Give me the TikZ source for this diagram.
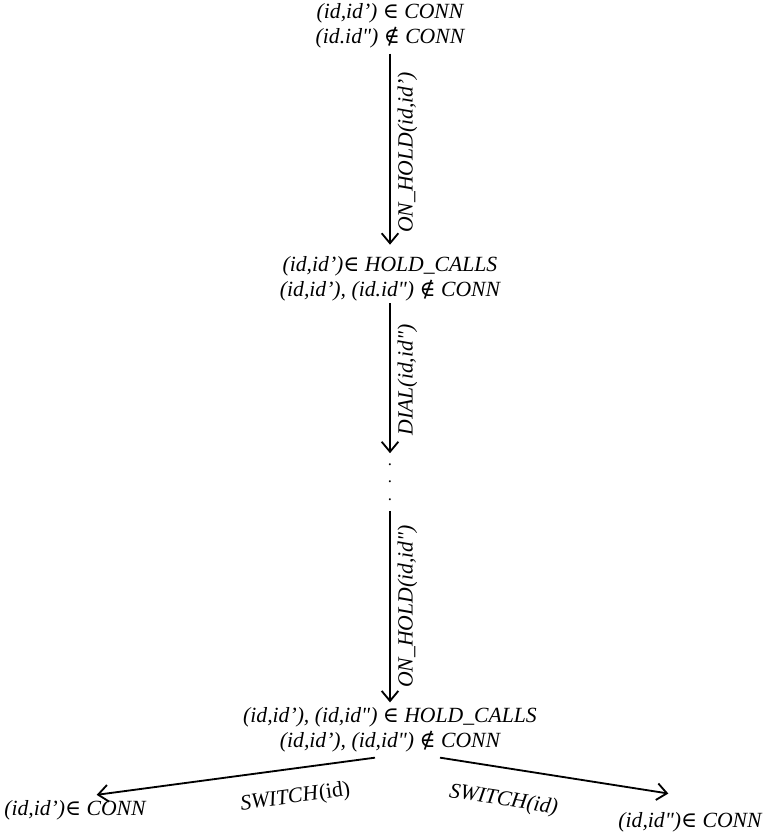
\documentclass[tikz,border=0pt]{standalone}
\usepackage{fontspec}
\setmainfont{Liberation Serif}[Ligatures=TeXOff]
\newfontfamily\symf{DejaVu Serif}
\newcommand{\isin}{{\symf\upshape ∈}}
\newcommand{\notisin}{{\symf\upshape ∉}}
\usetikzlibrary{arrows.meta}
\tikzset{
  state/.style={align=center,inner sep=3pt,font=\itshape\fontsize{13}{15}\selectfont},
  act/.style={font=\itshape\fontsize{13}{15}\selectfont,inner sep=4pt},
  arr/.style={line width=1.1pt,-{Straight Barb[length=6pt,width=10pt,line width=1.1pt]}}
}
\begin{document}
\begin{tikzpicture}[x=0.6pt,y=-0.6pt]
        \useasboundingbox (0,0) rectangle (767,838);
        % states down the middle
        \node[state] (s0) at (390,26) {(id,id’) \isin{} CONN\\(id.id") \notisin{} CONN};
        \node[state] (s1) at (390,279) {(id,id’)\isin{} HOLD\_CALLS\\(id,id’), (id.id") \notisin{} CONN};
        \node[align=center,inner sep=6pt,font=\fontsize{10}{10.5}\selectfont] (dots) at (390,482) {.\\.\\.};
        \node[state] (s2) at (390,730) {(id,id’), (id,id") \isin{} HOLD\_CALLS\\(id,id’), (id,id") \notisin{} CONN};
        \node[state] (l) at (75,810) {(id,id’)\isin{} CONN};
        \node[state] (r) at (690,822) {(id,id")\isin{} CONN};
        % transitions
        \draw[arr,shorten >=4pt] (s0) -- (s1) node[act,midway,rotate=90,anchor=north] {ON\_HOLD(id,id’)};
        \draw[arr,shorten <=-2pt] (s1) -- (dots) node[act,midway,rotate=90,anchor=north] {DIAL(id,id")};
        \draw[arr] (dots) -- (s2) node[act,midway,rotate=90,anchor=north] {ON\_HOLD(id,id")};
        \draw[arr] ([xshift=-9pt]s2.south) -- ([xshift=13pt]l.north)
        node[act,pos=0.3,sloped,below=7pt] {SWITCH\textup{(id)}};
        \draw[arr] ([xshift=30pt]s2.south) -- ([xshift=-13pt,yshift=8pt]r.north)
        node[act,pos=0.3,sloped,below=9pt] {SWITCH(id)};
    \end{tikzpicture}
\end{document}
